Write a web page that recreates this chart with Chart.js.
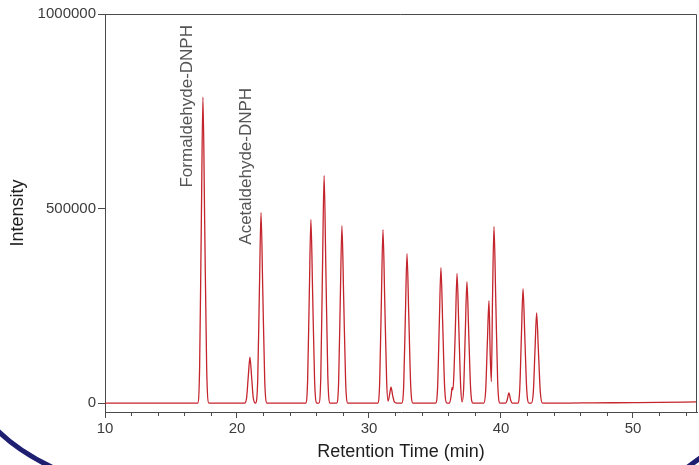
<!DOCTYPE html>
<html>
<head>
<meta charset="utf-8">
<script src="https://cdn.jsdelivr.net/npm/chart.js@4.4.1/dist/chart.umd.min.js"></script>
<style>
  html, body { margin: 0; padding: 0; background: #ffffff; }
  #wrap { width: 699px; height: 465px; }
</style>
</head>
<body>
<div id="wrap"><canvas id="c" width="699" height="465"></canvas></div>
<script>
// Retention time (min) of each sampled point along the trace
const retentionTimes = [
  10.0, 12.0,
  17.02, 17.17, 17.30, 17.42, 17.55, 17.70, 17.87,
  20.58, 20.73, 20.86, 20.98, 21.10, 21.23, 21.40,
  21.57, 21.70, 21.82, 21.95, 22.10, 22.27,
  25.20, 25.35, 25.48, 25.60, 25.73, 25.88, 26.05,
  26.20, 26.35, 26.48, 26.60, 26.73, 26.88, 27.05,
  27.55, 27.70, 27.83, 27.95, 28.08, 28.23, 28.40,
  30.66, 30.81, 30.94, 31.06, 31.19, 31.34, 31.45,
  31.55, 31.67, 31.79, 31.92, 32.10,
  32.48, 32.63, 32.76, 32.88, 33.01, 33.16, 33.33,
  35.05, 35.20, 35.33, 35.45, 35.58, 35.73, 35.90,
  36.10, 36.22, 36.30, 36.36, 36.44, 36.55, 36.67, 36.80, 36.95, 37.05,
  37.17, 37.30, 37.42, 37.55, 37.70, 37.87,
  38.69, 38.84, 38.97, 39.09, 39.18, 39.27, 39.36, 39.47, 39.60, 39.75, 39.92,
  40.35, 40.47, 40.60, 40.73, 40.85,
  41.27, 41.42, 41.55, 41.67, 41.80, 41.95, 42.12,
  42.30, 42.45, 42.58, 42.70, 42.83, 42.98, 43.15,
  45.0, 47.0, 50.0, 52.0, 54.85
];
// Intensity at each of those points
const intensities = [
  0, 0,
  0, 94000, 470000, 786000, 470000, 94000, 0,
  0, 14000, 71000, 118000, 71000, 14000, 0,
  59000, 294000, 490000, 294000, 59000, 0,
  0, 57000, 283000, 472000, 283000, 57000, 0,
  0, 70000, 351000, 585000, 351000, 70000, 0,
  0, 55000, 274000, 456000, 274000, 55000, 0,
  0, 54000, 268000, 446000, 268000, 54000, 5000,
  20000, 41000, 20000, 3000, 0,
  0, 46000, 230000, 384000, 230000, 46000, 0,
  0, 42000, 209000, 348000, 209000, 42000, 0,
  0, 18000, 40000, 34000, 80000, 200000, 333000, 200000, 40000, 3000,
  37000, 187000, 312000, 187000, 37000, 0,
  0, 32000, 158000, 263000, 130000, 55000, 272000, 454000, 272000, 54000, 0,
  0, 8000, 26000, 8000, 0,
  0, 35000, 176000, 294000, 176000, 35000, 0,
  0, 28000, 139000, 232000, 139000, 28000, 0,
  0, 500, 1000, 1500, 3000
];
// y-axis tick values
const yTickValues = [0, 500000, 1000000];
// Peak annotation names, the retention time and intensity where each label starts
const peakLabels = ["Formaldehyde-DNPH", "Acetaldehyde-DNPH"];
const peakLabelTimes = [16.21, 20.72];
const peakLabelIntensities = [554000, 407000];

const FONT = "'Liberation Sans', Arial, sans-serif";

const frameAndExtras = {
  id: 'frameAndExtras',
  afterDraw(chart) {
    const ctx = chart.ctx;
    const a = chart.chartArea;
    const xs = chart.scales.x, ys = chart.scales.y;
    ctx.save();
    // top and right frame
    ctx.strokeStyle = '#4a4a4a';
    ctx.lineWidth = 1;
    ctx.beginPath();
    ctx.moveTo(a.left, a.top + 0.5);
    ctx.lineTo(a.right - 0.5, a.top + 0.5);
    ctx.lineTo(a.right - 0.5, a.bottom);
    ctx.stroke();
    // minor x ticks every 2 min
    ctx.beginPath();
    for (let v = 12; v <= 54; v += 2) {
      if (v % 10 === 0) continue;
      const px = Math.round(xs.getPixelForValue(v)) + 0.5;
      ctx.moveTo(px, a.bottom);
      ctx.lineTo(px, a.bottom + 4);
    }
    ctx.stroke();
    // peak labels
    ctx.fillStyle = '#555555';
    ctx.font = '17px ' + FONT;
    ctx.textAlign = 'left';
    ctx.textBaseline = 'middle';
    for (let i = 0; i < peakLabels.length; i++) {
      const px = xs.getPixelForValue(peakLabelTimes[i]);
      const py = ys.getPixelForValue(peakLabelIntensities[i]);
      ctx.save();
      ctx.translate(px, py);
      ctx.rotate(-Math.PI / 2);
      ctx.fillText(peakLabels[i], 0, 0);
      ctx.restore();
    }
    // decorative navy arcs
    ctx.strokeStyle = '#1f1f72';
    ctx.lineWidth = 5;
    ctx.beginPath();
    ctx.moveTo(-3, 430);
    ctx.quadraticCurveTo(20, 453, 58, 470);
    ctx.stroke();
    ctx.beginPath();
    ctx.moveTo(684, 470);
    ctx.quadraticCurveTo(693, 463, 703, 456);
    ctx.stroke();
    ctx.restore();
  }
};

new Chart(document.getElementById('c'), {
  type: 'line',
  data: {
    datasets: [{
      data: retentionTimes.map((t, i) => ({ x: t, y: intensities[i] })),
      borderColor: '#c4242c',
      borderWidth: 1.3,
      pointRadius: 0,
      cubicInterpolationMode: 'monotone',
      fill: false
    }]
  },
  options: {
    responsive: false,
    animation: false,
    devicePixelRatio: 1,
    layout: { padding: { top: 14, right: 2, left: 0, bottom: 0 } },
    plugins: { legend: { display: false }, tooltip: { enabled: false } },
    scales: {
      x: {
        type: 'linear',
        min: 10,
        max: 54.85,
        afterFit(s) { s.height = 53; },
        border: { display: true, color: '#4a4a4a', width: 1 },
        grid: { drawOnChartArea: false, tickLength: 6, color: '#4a4a4a' },
        ticks: {
          stepSize: 10,
          includeBounds: false,
          color: '#3c3c3c',
          padding: 2,
          maxRotation: 0,
          font: { family: FONT, size: 15 },
          callback: v => String(v)
        },
        title: {
          display: true,
          text: 'Retention Time (min)',
          color: '#1e1e1e',
          font: { family: FONT, size: 18 },
          padding: { top: 0, bottom: 2 }
        }
      },
      y: {
        type: 'linear',
        min: -23000,
        max: 1000000,
        afterFit(s) { s.width = 105; },
        afterBuildTicks(s) { s.ticks = yTickValues.map(v => ({ value: v })); },
        border: { display: true, color: '#4a4a4a', width: 1 },
        grid: { drawOnChartArea: false, tickLength: 7, color: '#4a4a4a' },
        ticks: {
          color: '#3c3c3c',
          padding: 2,
          font: { family: FONT, size: 15 },
          callback: v => String(v)
        },
        title: {
          display: true,
          text: 'Intensity',
          color: '#1e1e1e',
          font: { family: FONT, size: 18 },
          padding: { top: 7, bottom: 0 }
        }
      }
    }
  },
  plugins: [frameAndExtras]
});
</script>
</body>
</html>
